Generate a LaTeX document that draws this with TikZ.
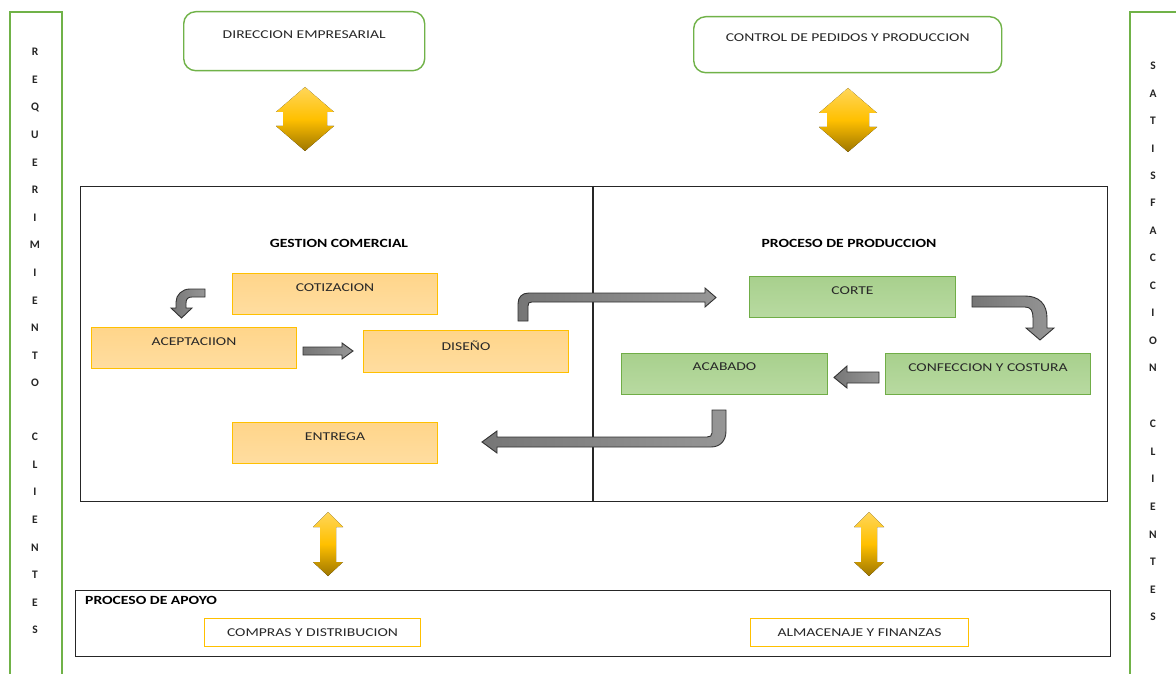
\documentclass[tikz,border=0pt]{standalone}
\usepackage{fontspec}
\setmainfont{Carlito}
\usepackage{graphicx}
\definecolor{lineGreen}{RGB}{112,178,72}
\definecolor{boxGreenBorder}{RGB}{112,173,71}
\definecolor{boxGreenTop}{RGB}{168,208,141}
\definecolor{boxGreenBot}{RGB}{184,218,161}
\definecolor{boxOrangeTop}{RGB}{255,213,138}
\definecolor{boxOrangeBot}{RGB}{255,221,160}
\definecolor{boxOrangeBorder}{RGB}{255,192,0}
\definecolor{ylTop}{RGB}{255,214,90}
\definecolor{ylMid}{RGB}{255,192,0}
\definecolor{ylBot}{RGB}{158,118,0}
\definecolor{arDark}{RGB}{118,118,118}
\definecolor{arLight}{RGB}{150,150,150}
\definecolor{arEdge}{RGB}{50,50,50}
\definecolor{txtGray}{RGB}{40,40,40}
\newcommand{\wtxt}[1]{\scalebox{1.3}[1]{#1}}
\newcommand{\btxt}[1]{\scalebox{1.25}[1]{#1}}
\begin{document}
\begin{tikzpicture}[x=1pt,y=-1pt,
  sidebox/.style={draw=lineGreen, line width=1.8pt, anchor=north west, inner sep=0pt},
  topbox/.style={draw=lineGreen, line width=1.4pt, rounded corners=12pt, anchor=north west, inner sep=0pt},
  frame/.style={draw=black!85, line width=1.3pt, anchor=north west, inner sep=0pt},
  obox/.style={draw=boxOrangeBorder, line width=1pt, top color=boxOrangeTop, bottom color=boxOrangeBot, anchor=north west, inner sep=0pt},
  gbox/.style={draw=boxGreenBorder, line width=1pt, top color=boxGreenTop, bottom color=boxGreenBot, anchor=north west, inner sep=0pt},
  wbox/.style={draw=boxOrangeBorder, line width=1pt, fill=white, anchor=north west, inner sep=0pt},
  txt/.style={text=txtGray, font=\fontsize{12}{14}\selectfont, inner sep=0pt},
  head/.style={text=black, font=\fontsize{12.5}{14}\selectfont\bfseries, inner sep=0pt},
  sidelet/.style={text=black!85, font=\fontsize{11.5}{13}\selectfont\bfseries, inner sep=0pt},
  yarrow/.style={top color=ylTop, bottom color=ylBot, middle color=ylMid},
  garrow/.style={draw=arEdge, line width=0.9pt, left color=arDark, right color=arLight},
]
\useasboundingbox (0,0) rectangle (1176,674);
\fill[white] (0,0) rectangle (1176,674);

% side bands: customer requirements / customer satisfaction
\node[sidebox, minimum width=52, minimum height=680] (req) at (9,11) {};
\node[sidebox, minimum width=60, minimum height=680] (sat) at (1129,11) {};
\foreach \l [count=\i from 0] in {R,E,Q,U,E,R,I,M,I,E,N,T,O}
  \node[sidelet] (reqA\i) at (35,52+27.6*\i) {\l};
\foreach \l [count=\i from 0] in {C,L,I,E,N,T,E,S}
  \node[sidelet] (reqB\i) at (35,437+27.6*\i) {\l};
\foreach \l [count=\i from 0] in {S,A,T,I,S,F,A,C,C,I,O,N}
  \node[sidelet] (satA\i) at (1153,66+27.45*\i) {\l};
\foreach \l [count=\i from 0] in {C,L,I,E,N,T,E,S}
  \node[sidelet] (satB\i) at (1153,424+27.6*\i) {\l};

% strategic boxes
\node[topbox, minimum width=241, minimum height=59] (dir) at (183,11) {};
\node[txt] (dirT) at ([yshift=-24pt]dir.north) {\wtxt{DIRECCION EMPRESARIAL}};
\node[topbox, minimum width=308, minimum height=56] (ctl) at (693,16) {};
\node[txt] (ctlT) at ([yshift=-22pt]ctl.north) {\wtxt{CONTROL DE PEDIDOS Y PRODUCCION}};

% yellow double arrows
\fill[yarrow] (305,87) -- (334,112) -- (327,112) -- (327,126) -- (334,126) -- (305,151)
  -- (276,126) -- (283,126) -- (283,112) -- (276,112) -- cycle;
\fill[yarrow] (848,88) -- (877,113) -- (869,113) -- (869,127) -- (877,127) -- (848,152)
  -- (819,127) -- (827,127) -- (827,113) -- (819,113) -- cycle;
\fill[yarrow] (328,512) -- (343,527) -- (336,527) -- (336,562) -- (343,562) -- (328,576)
  -- (313,562) -- (320,562) -- (320,527) -- (313,527) -- cycle;
\fill[yarrow] (869,512) -- (884,527) -- (877,527) -- (877,562) -- (884,562) -- (869,576)
  -- (854,562) -- (861,562) -- (861,527) -- (854,527) -- cycle;

% core process frame
\node[frame, minimum width=1027, minimum height=315] (core) at (80,186) {};
\draw[black!85, line width=1.3pt] (core.north -| 593,0) -- (core.south -| 593,0);
\node[head] (gcT) at (339,243) {\btxt{GESTION COMERCIAL}};
\node[head] (ppT) at (849,243) {\btxt{PROCESO DE PRODUCCION}};

% commercial management steps
\node[obox, minimum width=205, minimum height=41] (cot) at (232,273) {};
\node[txt] (cotT) at ([yshift=-15pt]cot.north) {\wtxt{COTIZACION}};
\node[obox, minimum width=205, minimum height=41] (acp) at (91,327) {};
\node[txt] (acpT) at ([yshift=-15pt]acp.north) {\wtxt{ACEPTACIION}};
\node[obox, minimum width=205, minimum height=42] (dis) at (363,330) {};
\node[txt] (disT) at ([yshift=-16pt]dis.north) {\wtxt{DISEÑO}};
\node[obox, minimum width=205, minimum height=41] (ent) at (232,422) {};
\node[txt] (entT) at ([yshift=-15pt]ent.north) {\wtxt{ENTREGA}};

% production steps
\node[gbox, minimum width=206, minimum height=41] (cor) at (749,276) {};
\node[txt] (corT) at ([yshift=-15pt]cor.north) {\wtxt{CORTE}};
\node[gbox, minimum width=206, minimum height=41] (aca) at (621,353) {};
\node[txt] (acaT) at ([yshift=-14pt]aca.north) {\wtxt{ACABADO}};
\node[gbox, minimum width=205, minimum height=41] (con) at (885,353) {};
\node[txt] (conT) at ([yshift=-15pt]con.north) {\wtxt{CONFECCION Y COSTURA}};

% grey block arrows
% cotizacion -> aceptacion
\path[garrow] (205,289) -- (190,289) .. controls (182,289) and (176,295) .. (176,302)
  -- (176,308) -- (171,308) -- (181.5,318) -- (192,308) -- (186,308) -- (186,303)
  .. controls (186,299) and (188,297) .. (192,297) -- (205,297) -- cycle;
% aceptacion -> diseno
\path[garrow] (303,347) -- (342,347) -- (342,343) -- (353,351) -- (342,359) -- (342,355) -- (303,355) -- cycle;
% diseno -> corte
\path[garrow] (518,321) -- (518,304) .. controls (518,297) and (522,293) .. (529,293)
  -- (705,293) -- (705,288) -- (716,297.5) -- (705,307) -- (705,302) -- (532,302)
  .. controls (529,302) and (528,303) .. (528,306) -- (528,321) -- cycle;
% corte -> confeccion
\path[garrow] (972,296) -- (1025,296) .. controls (1039,296) and (1047,304) .. (1047,318)
  -- (1047,328) -- (1054,328) -- (1040,340) -- (1026,328) -- (1033,328) -- (1033,318)
  .. controls (1033,311) and (1031,307) .. (1025,307) -- (972,307) -- cycle;
% confeccion -> acabado
\path[garrow] (879,372) -- (847,372) -- (847,366) -- (834,377.5) -- (847,388) -- (847,383) -- (879,383) -- cycle;
% acabado -> entrega
\path[garrow] (712,410) -- (726,410) -- (726,431) .. controls (726,441) and (720,447) .. (711,447)
  -- (497,447) -- (497,453) -- (482,442) -- (497,431) -- (497,437) -- (707,437)
  .. controls (710,437) and (712,436) .. (712,433) -- cycle;

% support processes
\node[frame, minimum width=1035, minimum height=66] (apo) at (75,590) {};
\node[head, anchor=west] (apoT) at (85,600) {\btxt{PROCESO DE APOYO}};
\node[wbox, minimum width=216, minimum height=28] (com) at (204,618) {};
\node[txt] (comT) at (com.center) {\wtxt{COMPRAS Y DISTRIBUCION}};
\node[wbox, minimum width=218, minimum height=28] (alm) at (750,618) {};
\node[txt] (almT) at (alm.center) {\wtxt{ALMACENAJE Y FINANZAS}};
\end{tikzpicture}
\end{document}
